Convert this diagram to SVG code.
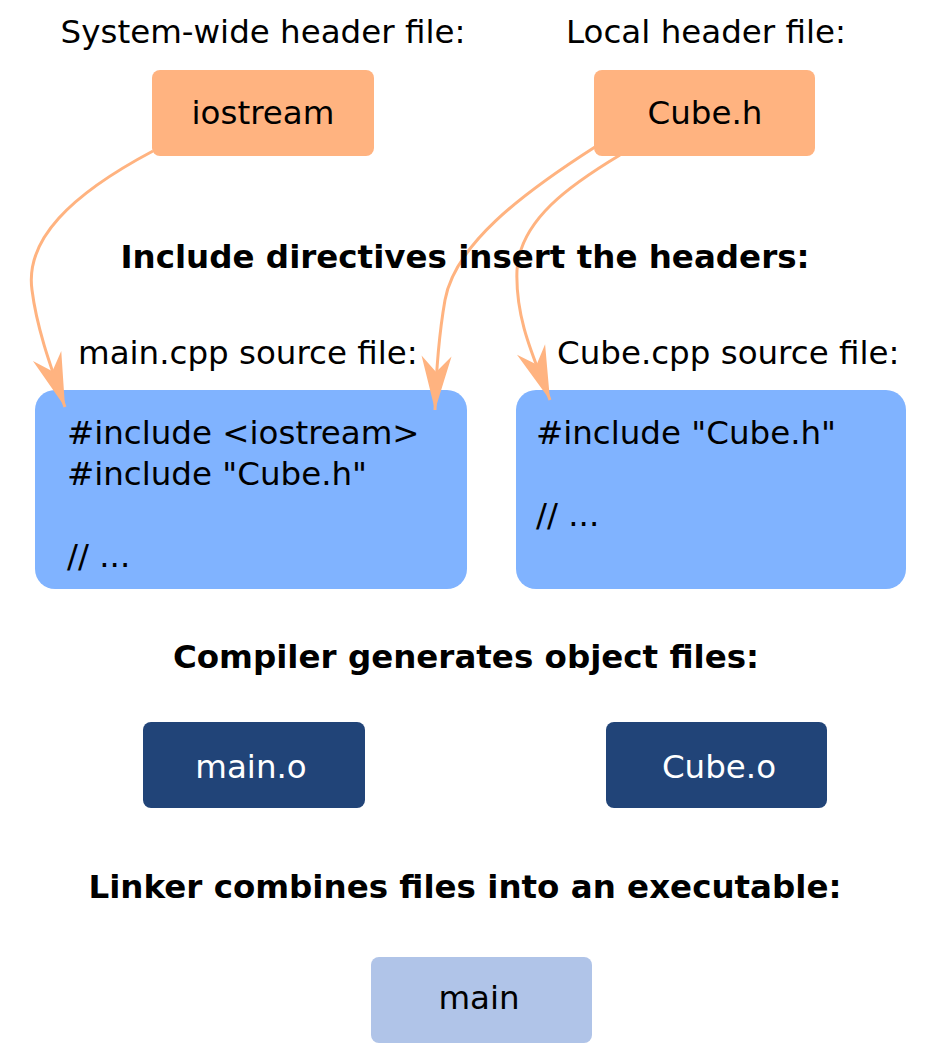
<svg xmlns="http://www.w3.org/2000/svg" width="939" height="1059" viewBox="0 0 939 1059">
<style>
text { font-family: "DejaVu Sans", "Liberation Sans", sans-serif; font-size: 32.5px; fill: #000; }
.b { font-weight: bold; }
.c { text-anchor: middle; }
.w { fill: #fff; }
.hdr { fill: #ffb380; }
.src { fill: #80b3ff; }
.obj { fill: #214478; }
.exe { fill: #b0c4e8; }
.arr { fill: none; stroke: #ffb380; stroke-width: 3; marker-end: url(#head); }
</style>
<defs>
<marker id="head" markerUnits="userSpaceOnUse" orient="auto" refX="0" refY="0" markerWidth="60" markerHeight="40" overflow="visible">
<path d="M0,0 L-54,-15 L-38,0 L-54,15 Z" fill="#ffb380"/>
</marker>
</defs>
<rect width="939" height="1059" fill="#fff"/>

<g id="iostream">
<rect class="hdr" x="152" y="70" width="222" height="86" rx="8"/>
<text class="c" x="263" y="124">iostream</text>
</g>
<g id="cube_h">
<rect class="hdr" x="594" y="70" width="221" height="86" rx="8"/>
<text class="c" x="705" y="124">Cube.h</text>
</g>
<g id="main_cpp">
<rect class="src" x="35" y="390" width="432" height="199" rx="20"/>
<text x="67" y="444">#include &lt;iostream&gt;</text>
<text x="67" y="485">#include "Cube.h"</text>
<text x="67" y="567">// ...</text>
</g>
<g id="cube_cpp">
<rect class="src" x="516" y="390" width="390" height="199" rx="20"/>
<text x="536" y="444">#include "Cube.h"</text>
<text x="536" y="526">// ...</text>
</g>
<g id="main_o">
<rect class="obj" x="143" y="722" width="222" height="86" rx="8"/>
<text class="c w" x="251" y="778">main.o</text>
</g>
<g id="cube_o">
<rect class="obj" x="606" y="722" width="221" height="86" rx="8"/>
<text class="c w" x="719" y="778">Cube.o</text>
</g>
<g id="main">
<rect class="exe" x="371" y="957" width="221" height="86" rx="8"/>
<text class="c" x="479" y="1009">main</text>
</g>

<g id="connectors">
<path class="arr" d="M153,151 C70,195 25,240 32,290 C37,330 52,370 65,407"/>
<path class="arr" d="M595,147 C520,195 455,245 445,300 C438,340 436,375 435,410"/>
<path class="arr" d="M620,155 C570,185 520,220 517,270 C515,320 535,360 550,400"/>
</g>

<g id="labels">
<text class="c" x="263" y="43">System-wide header file:</text>
<text class="c" x="706" y="43">Local header file:</text>
<text class="b c" x="465" y="268">Include directives insert the headers:</text>
<text x="78" y="364">main.cpp source file:</text>
<text x="557" y="364">Cube.cpp source file:</text>
<text class="b c" x="466" y="668">Compiler generates object files:</text>
<text class="b c" x="465" y="898">Linker combines files into an executable:</text>
</g>
</svg>
